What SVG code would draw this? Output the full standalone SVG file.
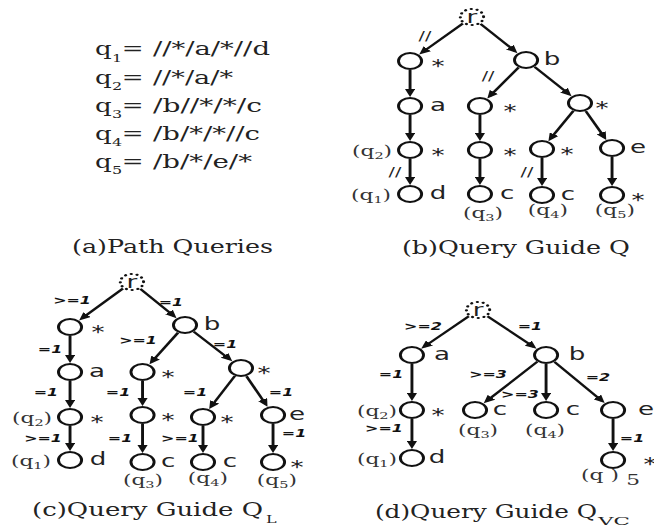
<svg xmlns="http://www.w3.org/2000/svg" width="654" height="530" viewBox="0 0 654 530">
<style>
.n{fill:#fff;stroke:#111;stroke-width:2}
.root{fill:none;stroke:#111;stroke-width:2.2;stroke-dasharray:0.1 4;stroke-linecap:round}
.e{stroke:#111;stroke-width:2;fill:none;marker-end:url(#ah)}
.lbl{font-family:"DejaVu Sans",sans-serif;font-size:18px;fill:#222;text-anchor:middle}
.q{font-family:"DejaVu Serif",serif;font-size:15px;fill:#333;text-anchor:middle}
.el{font-family:"DejaVu Sans",sans-serif;font-size:11px;font-weight:bold;font-style:italic;fill:#111;text-anchor:middle}
.dd{font-family:"DejaVu Sans",sans-serif;font-size:13px;fill:#222;text-anchor:middle}
.ser{font-family:"DejaVu Serif",serif;font-size:18px;fill:#222}
.sub{font-family:"DejaVu Serif",serif;font-size:11px;fill:#222}
</style>
<defs>
<marker id="ah" markerUnits="userSpaceOnUse" markerWidth="8" markerHeight="7" refX="5" refY="3.5" orient="auto"><path d="M0,0 L8,3.5 L0,7 z" fill="#111"/></marker>
</defs>
<rect width="654" height="530" fill="#fff"/>
<g transform="scale(1.45,1)">
<!-- (a) path queries -->
<g id="queries">
<text class="ser" x="65.5" y="55">q</text><text class="sub" x="77.2" y="62">1</text><text class="ser" x="84" y="55">=</text><text class="ser" x="105.5" y="55" textLength="80.7" lengthAdjust="spacingAndGlyphs">//*/a/*//d</text>
<text class="ser" x="65.5" y="84">q</text><text class="sub" x="77.2" y="90">2</text><text class="ser" x="84" y="84">=</text><text class="ser" x="105.5" y="84" textLength="55.2" lengthAdjust="spacingAndGlyphs">//*/a/*</text>
<text class="ser" x="65.5" y="112">q</text><text class="sub" x="77.2" y="118">3</text><text class="ser" x="84" y="112">=</text><text class="ser" x="105.5" y="112" textLength="75.2" lengthAdjust="spacingAndGlyphs">/b//*/*/c</text>
<text class="ser" x="65.5" y="140">q</text><text class="sub" x="77.2" y="146">4</text><text class="ser" x="84" y="140">=</text><text class="ser" x="105.5" y="140" textLength="73.8" lengthAdjust="spacingAndGlyphs">/b/*/*//c</text>
<text class="ser" x="65.5" y="168">q</text><text class="sub" x="77.2" y="174">5</text><text class="ser" x="84" y="168">=</text><text class="ser" x="105.5" y="168" textLength="68.3" lengthAdjust="spacingAndGlyphs">/b/*/e/*</text>
</g>
<g id="captions">
<text class="ser" x="49.7" y="253" textLength="138.6" lengthAdjust="spacingAndGlyphs">(a)Path Queries</text>
<text class="ser" x="277.2" y="254" textLength="157.2" lengthAdjust="spacingAndGlyphs">(b)Query Guide Q</text>
<text class="ser" x="22.1" y="516" textLength="159.3" lengthAdjust="spacingAndGlyphs">(c)Query Guide Q</text><text class="sub" x="183.4" y="523">L</text>
<text class="ser" x="258.6" y="518" textLength="153.1" lengthAdjust="spacingAndGlyphs">(d)Query Guide Q</text><text class="sub" x="412.4" y="525" font-size="12" textLength="22" lengthAdjust="spacingAndGlyphs">VC</text>
</g>

<!-- connectors -->
<g id="connectors">
<!-- (b) -->
<line class="e" x1="319.2" y1="23.5" x2="291.2" y2="52.4"/>
<line class="e" x1="331.4" y1="23.8" x2="354.9" y2="50.9"/>
<line class="e" x1="282.8" y1="70" x2="282.8" y2="94"/>
<line class="e" x1="357.7" y1="67.4" x2="337.8" y2="96.1"/>
<line class="e" x1="368.7" y1="66.8" x2="392.2" y2="93.9"/>
<line class="e" x1="282.8" y1="115" x2="282.8" y2="138"/>
<line class="e" x1="331" y1="115" x2="331" y2="138"/>
<line class="e" x1="395.5" y1="110.8" x2="379.7" y2="138.6"/>
<line class="e" x1="404" y1="111.1" x2="416.8" y2="137.2"/>
<line class="e" x1="282.8" y1="159" x2="282.8" y2="182"/>
<line class="e" x1="331" y1="159" x2="331" y2="182"/>
<line class="e" x1="373.8" y1="158" x2="373.8" y2="183"/>
<line class="e" x1="422.1" y1="157" x2="422.1" y2="183"/>
<text class="dd" x="293.1" y="40">//</text>
<text class="dd" x="336.6" y="80">//</text>
<text class="dd" x="272.4" y="176">//</text>
<text class="dd" x="363.4" y="176">//</text>
<!-- (c) -->
<line class="e" x1="84.8" y1="288.5" x2="56.6" y2="318.3"/>
<line class="e" x1="96.8" y1="288.8" x2="119.8" y2="315.9"/>
<line class="e" x1="48.3" y1="336" x2="48.3" y2="360"/>
<line class="e" x1="122.8" y1="332.6" x2="104.7" y2="361.8"/>
<line class="e" x1="133.6" y1="331.7" x2="158.2" y2="359.1"/>
<line class="e" x1="48.3" y1="381" x2="48.3" y2="405"/>
<line class="e" x1="98.3" y1="381" x2="98.3" y2="403"/>
<line class="e" x1="162" y1="375.9" x2="145.7" y2="406.4"/>
<line class="e" x1="170" y1="376.2" x2="183.2" y2="404.1"/>
<line class="e" x1="48.3" y1="426" x2="48.3" y2="448"/>
<line class="e" x1="98.3" y1="424" x2="98.3" y2="450"/>
<line class="e" x1="140" y1="426" x2="140" y2="450"/>
<line class="e" x1="188.3" y1="424" x2="188.3" y2="450"/>
<text class="el" x="49.7" y="304">&gt;=1</text>
<text class="el" x="117.9" y="306">=1</text>
<text class="el" x="95.2" y="344">&gt;=1</text>
<text class="el" x="155.2" y="348">=1</text>
<text class="el" x="34.5" y="353">=1</text>
<text class="el" x="31.7" y="396">=1</text>
<text class="el" x="81.4" y="396">=1</text>
<text class="el" x="134.5" y="396">=1</text>
<text class="el" x="193.8" y="396">=1</text>
<text class="el" x="29.7" y="442">&gt;=1</text>
<text class="el" x="82.8" y="442">=1</text>
<text class="el" x="124.1" y="442">&gt;=1</text>
<text class="el" x="202.8" y="437">=1</text>
<!-- (d) -->
<line class="e" x1="323.3" y1="316.3" x2="292.6" y2="346.6"/>
<line class="e" x1="336.2" y1="316.2" x2="367.9" y2="346.7"/>
<line class="e" x1="284.1" y1="364" x2="284.1" y2="398"/>
<line class="e" x1="284.1" y1="419" x2="284.1" y2="446"/>
<line class="e" x1="370.6" y1="361.7" x2="335.6" y2="401"/>
<line class="e" x1="376.6" y1="364" x2="376.6" y2="398"/>
<line class="e" x1="382.4" y1="361.9" x2="415.1" y2="400.8"/>
<line class="e" x1="422.8" y1="419" x2="422.8" y2="448"/>
<text class="el" x="291.7" y="330">&gt;=2</text>
<text class="el" x="365.5" y="330">=1</text>
<text class="el" x="269.7" y="378">=1</text>
<text class="el" x="336.6" y="378">&gt;=3</text>
<text class="el" x="412.4" y="381">=2</text>
<text class="el" x="358.6" y="398">&gt;=3</text>
<text class="el" x="264.8" y="432">&gt;=1</text>
<text class="el" x="435.9" y="442" text-anchor="start">=1</text>
</g>

<!-- (b) nodes -->
<g id="b-r"><circle class="root" cx="325.5" cy="17" r="8"/><text class="lbl" x="325.5" y="23">r</text></g>
<g id="b-n1"><circle class="n" cx="282.8" cy="61" r="8"/><text class="lbl" x="302.1" y="72">*</text></g>
<g id="b-b"><circle class="n" cx="362.8" cy="60" r="8"/><text class="lbl" x="380.7" y="65">b</text></g>
<g id="b-a"><circle class="n" cx="282.8" cy="106" r="8"/><text class="lbl" x="302.1" y="111">a</text></g>
<g id="b-s2"><circle class="n" cx="331" cy="106" r="8"/><text class="lbl" x="351.7" y="117">*</text></g>
<g id="b-s3"><circle class="n" cx="400" cy="103" r="8"/><text class="lbl" x="415.2" y="114">*</text></g>
<g id="b-q2"><circle class="n" cx="282.8" cy="150" r="8"/><text class="lbl" x="302.1" y="161">*</text><text class="q" x="256.6" y="156">(q<tspan font-size="10" dy="3">2</tspan><tspan dy="-3">)</tspan></text></g>
<g id="b-s4"><circle class="n" cx="331" cy="150" r="8"/><text class="lbl" x="351.7" y="161">*</text></g>
<g id="b-s5"><circle class="n" cx="373.8" cy="149" r="8"/><text class="lbl" x="391" y="160">*</text></g>
<g id="b-e"><circle class="n" cx="422.1" cy="148" r="8"/><text class="lbl" x="440" y="153">e</text></g>
<g id="b-d"><circle class="n" cx="282.8" cy="194" r="8"/><text class="lbl" x="302.1" y="199">d</text><text class="q" x="255.9" y="200">(q<tspan font-size="10" dy="3">1</tspan><tspan dy="-3">)</tspan></text></g>
<g id="b-c3"><circle class="n" cx="331" cy="194" r="8"/><text class="lbl" x="349.7" y="199">c</text><text class="q" x="333.1" y="218">(q<tspan font-size="10" dy="3">3</tspan><tspan dy="-3">)</tspan></text></g>
<g id="b-c4"><circle class="n" cx="373.8" cy="195" r="8"/><text class="lbl" x="391.7" y="200">c</text><text class="q" x="377.9" y="215">(q<tspan font-size="10" dy="3">4</tspan><tspan dy="-3">)</tspan></text></g>
<g id="b-s6"><circle class="n" cx="422.1" cy="195" r="8"/><text class="lbl" x="440" y="206">*</text><text class="q" x="424.1" y="215">(q<tspan font-size="10" dy="3">5</tspan><tspan dy="-3">)</tspan></text></g>

<!-- (c) nodes -->
<g id="c-r"><circle class="root" cx="91" cy="282" r="8"/><text class="lbl" x="91" y="288">r</text></g>
<g id="c-n1"><circle class="n" cx="48.3" cy="327" r="8"/><text class="lbl" x="67.6" y="338">*</text></g>
<g id="c-b"><circle class="n" cx="127.6" cy="325" r="8"/><text class="lbl" x="146.2" y="330">b</text></g>
<g id="c-a"><circle class="n" cx="48.3" cy="372" r="8"/><text class="lbl" x="66.9" y="377">a</text></g>
<g id="c-s2"><circle class="n" cx="98.3" cy="372" r="8"/><text class="lbl" x="115.9" y="383">*</text></g>
<g id="c-s3"><circle class="n" cx="166.2" cy="368" r="8"/><text class="lbl" x="182.1" y="379">*</text></g>
<g id="c-q2"><circle class="n" cx="48.3" cy="417" r="8"/><text class="lbl" x="66.9" y="428">*</text><text class="q" x="22.1" y="423">(q<tspan font-size="10" dy="3">2</tspan><tspan dy="-3">)</tspan></text></g>
<g id="c-s4"><circle class="n" cx="98.3" cy="415" r="8"/><text class="lbl" x="115.9" y="426">*</text></g>
<g id="c-s5"><circle class="n" cx="140" cy="417" r="8"/><text class="lbl" x="156.6" y="428">*</text></g>
<g id="c-e"><circle class="n" cx="188.3" cy="415" r="8"/><text class="lbl" x="204.8" y="420">e</text></g>
<g id="c-d"><circle class="n" cx="48.3" cy="460" r="8"/><text class="lbl" x="67.6" y="465">d</text><text class="q" x="21.4" y="466">(q<tspan font-size="10" dy="3">1</tspan><tspan dy="-3">)</tspan></text></g>
<g id="c-c3"><circle class="n" cx="98.3" cy="462" r="8"/><text class="lbl" x="115.9" y="467">c</text><text class="q" x="98.6" y="485">(q<tspan font-size="10" dy="3">3</tspan><tspan dy="-3">)</tspan></text></g>
<g id="c-c4"><circle class="n" cx="140" cy="462" r="8"/><text class="lbl" x="158.6" y="467">c</text><text class="q" x="143.4" y="483">(q<tspan font-size="10" dy="3">4</tspan><tspan dy="-3">)</tspan></text></g>
<g id="c-s6"><circle class="n" cx="188.3" cy="462" r="8"/><text class="lbl" x="204.8" y="473">*</text><text class="q" x="191" y="485">(q<tspan font-size="10" dy="3">5</tspan><tspan dy="-3">)</tspan></text></g>

<!-- (d) nodes -->
<g id="d-r"><circle class="root" cx="329.7" cy="310" r="8"/><text class="lbl" x="329.7" y="316">r</text></g>
<g id="d-a"><circle class="n" cx="284.1" cy="355" r="8"/><text class="lbl" x="304.8" y="360">a</text></g>
<g id="d-b"><circle class="n" cx="376.6" cy="355" r="8"/><text class="lbl" x="397.9" y="360">b</text></g>
<g id="d-q2"><circle class="n" cx="284.1" cy="410" r="8"/><text class="lbl" x="302.1" y="421">*</text><text class="q" x="260" y="416">(q<tspan font-size="10" dy="3">2</tspan><tspan dy="-3">)</tspan></text></g>
<g id="d-c3"><circle class="n" cx="327.6" cy="410" r="8"/><text class="lbl" x="344.8" y="415">c</text><text class="q" x="329.7" y="435">(q<tspan font-size="10" dy="3">3</tspan><tspan dy="-3">)</tspan></text></g>
<g id="d-c4"><circle class="n" cx="376.6" cy="410" r="8"/><text class="lbl" x="395.2" y="415">c</text><text class="q" x="375.9" y="435">(q<tspan font-size="10" dy="3">4</tspan><tspan dy="-3">)</tspan></text></g>
<g id="d-e"><circle class="n" cx="422.8" cy="410" r="8"/><text class="lbl" x="445.5" y="415">e</text></g>
<g id="d-d"><circle class="n" cx="284.1" cy="458" r="8"/><text class="lbl" x="301.4" y="463">d</text><text class="q" x="260" y="464">(q<tspan font-size="10" dy="3">1</tspan><tspan dy="-3">)</tspan></text></g>
<g id="d-s5"><circle class="n" cx="422.8" cy="460" r="8"/><text class="lbl" x="448.3" y="470">*</text><text class="q" x="413.8" y="480" text-anchor="start">(q )</text><text class="q" x="436.6" y="485" font-size="10" text-anchor="start">5</text></g>
</g>
</svg>
